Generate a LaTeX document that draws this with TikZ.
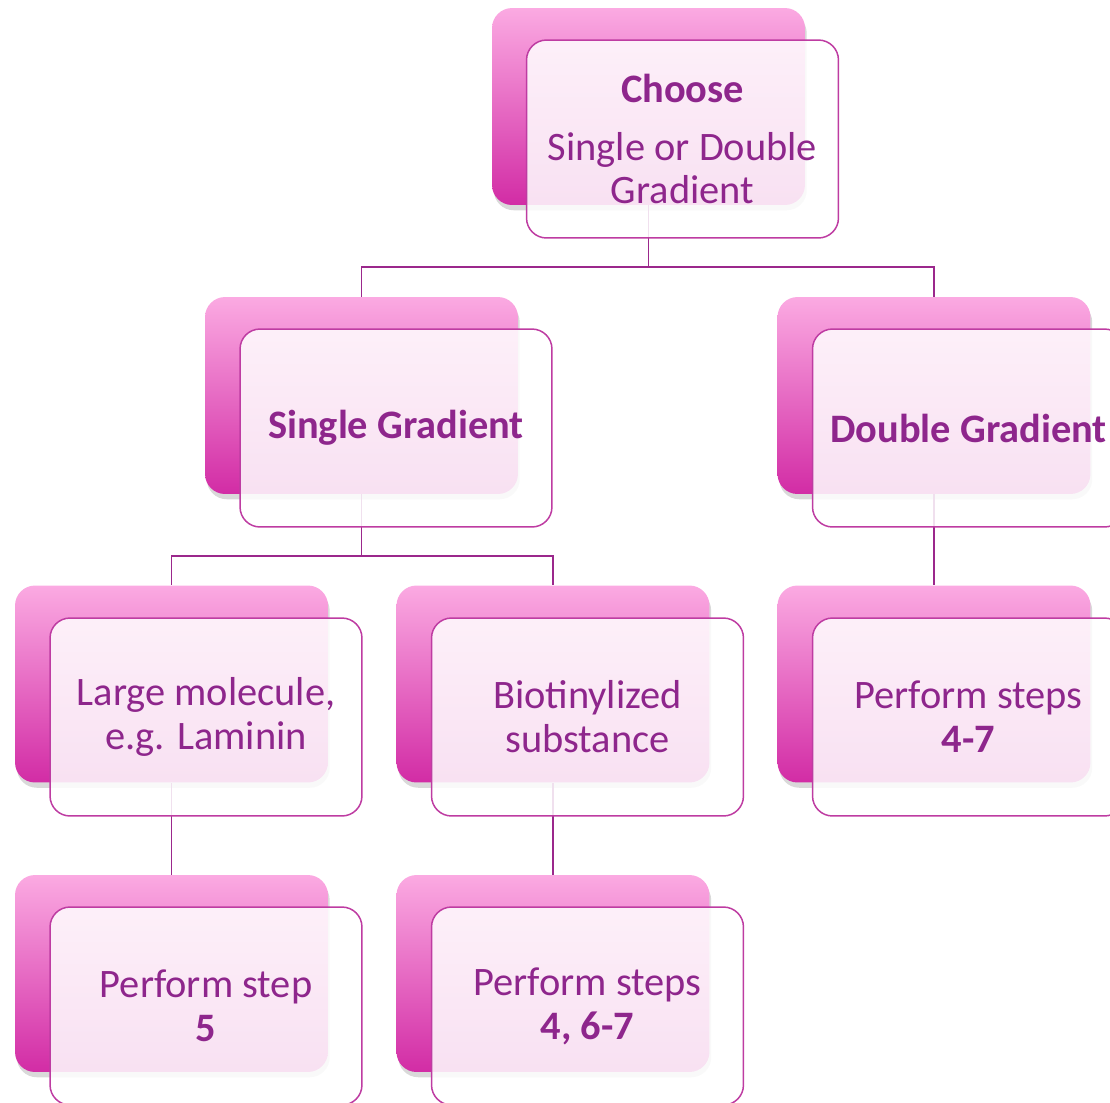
\documentclass[tikz,border=0pt]{standalone}
\usepackage{fontspec}
\setmainfont{Carlito}
\usetikzlibrary{shadows}

\definecolor{pinktop}{RGB}{251,170,226}
\definecolor{pinkbot}{RGB}{210,44,165}
\definecolor{boxedge}{RGB}{190,60,162}
\definecolor{linkline}{RGB}{155,40,140}
\definecolor{textpurple}{RGB}{142,38,140}

\tikzset{
  backbox/.style={rectangle, rounded corners=0.4cm, minimum width=6.26cm, minimum height=3.94cm,
    inner sep=0pt, top color=pinktop, bottom color=pinkbot, draw=none,
    drop shadow={shadow xshift=1pt, shadow yshift=-3pt, opacity=0.3}},
  frontbox/.style={rectangle, rounded corners=0.4cm, minimum width=6.24cm, minimum height=3.96cm,
    inner sep=0pt, draw=boxedge, line width=0.85pt, fill=white, fill opacity=0.86, text opacity=1,
    text=textpurple, align=center, font=\fontsize{23}{25}\selectfont},
  link/.style={draw=linkline, line width=1pt}
}

\begin{document}
\begin{tikzpicture}[x=0.02cm, y=-0.02cm]
  \useasboundingbox (0,0) rectangle (1110,1103);

  % gradient boxes at the back
  \foreach \n/\x/\y in {choose/648.5/106.5, single/361.5/395.5, double/934/395.5,
      large/171.5/684, biotin/553/684, stepsb/934/684, stepl/171.5/973.5, stepm/553/973.5} {
    \node[backbox] (\n-b) at (\x,\y) {};
  }

  % junctions of the tree
  \coordinate (j1) at (0,267);
  \coordinate (j2) at (0,556);

  % connectors
  \draw[link] (choose-b.south) -- (choose-b.south |- j1) -| (single-b.north);
  \draw[link] (choose-b.south |- j1) -| (double-b.north);
  \draw[link] (single-b.south) -- (single-b.south |- j2) -| (large-b.north);
  \draw[link] (single-b.south |- j2) -| (biotin-b.north);
  \draw[link] (double-b.south) -- (stepsb-b.north);
  \draw[link] (large-b.south) -- (stepl-b.north);
  \draw[link] (biotin-b.south) -- (stepm-b.north);

  % white boxes in front, with the texts
  \node[frontbox] (choose) at (682.5,139) {\textbf{Choose}\\[0.28cm]Single or Double\\Gradient};
  \node[frontbox] (single) at (396,428) {\textbf{Single Gradient}};
  \node[frontbox] (double) at (968.5,428) {\textbf{Double Gradient}};
  \node[frontbox] (large) at (206,717) {Large molecule,\\e.g. Laminin};
  \node[frontbox] (biotin) at (587.5,717) {Biotinylized\\substance};
  \node[frontbox] (stepsb) at (968.5,717) {Perform steps\\\textbf{4-7}};
  \node[frontbox] (stepl) at (206,1006) {Perform step\\\textbf{5}};
  \node[frontbox] (stepm) at (587.5,1006) {Perform steps\\\textbf{4, 6-7}};
\end{tikzpicture}
\end{document}
